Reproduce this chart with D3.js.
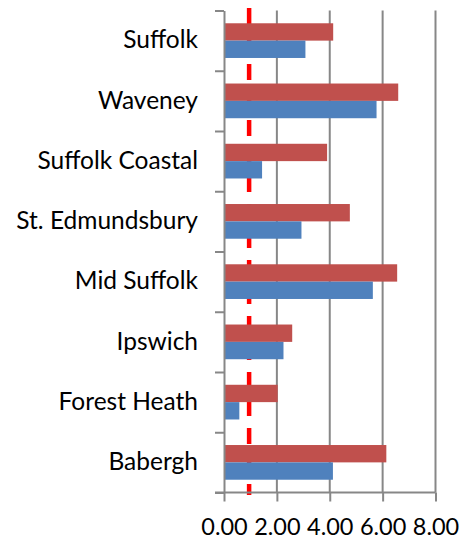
<!DOCTYPE html>
<html>
<head>
<meta charset="utf-8">
<script src="https://cdn.jsdelivr.net/npm/d3@7"></script>
<style>
  body { margin: 0; background: #fff; }
  svg { display: block; }
  text { font-family: Lato, 'Noto Sans', sans-serif; fill: #000; }
</style>
</head>
<body>
<svg id="chart"></svg>
<script>
// districts, top to bottom as drawn
const categories = ['Suffolk', 'Waveney', 'Suffolk Coastal', 'St. Edmundsbury', 'Mid Suffolk', 'Ipswich', 'Forest Heath', 'Babergh']
// upper (red) bar of each pair
const redValues = [4.13, 6.59, 3.90, 4.76, 6.55, 2.58, 2.03, 6.14]
// lower (blue) bar of each pair
const blueValues = [3.08, 5.77, 1.44, 2.93, 5.63, 2.25, 0.58, 4.12]
const xTicks = [0, 2, 4, 6, 8]
const refValue = 0.95

const width = 462
const height = 541
const margin = {top: 10.5, right: 26.5, bottom: 48.5, left: 224}
const w = width - margin.left - margin.right
const h = height - margin.top - margin.bottom

const redColor = '#c0504d'
const blueColor = '#4f81bd'
const gridColor = '#878787'

const svg = d3.select('#chart')
  .attr('width', width)
  .attr('height', height)

const g = svg.append('g')
  .attr('transform', 'translate(' + margin.left + ',' + margin.top + ')')

const x = d3.scaleLinear()
  .domain([0, 8])
  .range([0, w])

const y0 = d3.scaleBand()
  .domain(categories)
  .range([0, h])
  .paddingInner(0.424)
  .paddingOuter(0.212)

const y1 = d3.scaleBand()
  .domain(['red', 'blue'])
  .range([0, y0.bandwidth()])

const yEdge = d3.scaleLinear()
  .domain([0, categories.length])
  .range([0, h])

// vertical gridlines
g.append('g')
  .classed('grid', true)
  .selectAll('line')
  .data(xTicks.filter((d) => d > 0))
  .enter()
  .append('line')
  .attr('x1', (d) => x(d))
  .attr('x2', (d) => x(d))
  .attr('y1', 0)
  .attr('y2', h)
  .attr('stroke', gridColor)
  .attr('stroke-width', 2)

// red dashed reference line, sits behind the bars
g.append('line')
  .attr('x1', x(refValue))
  .attr('x2', x(refValue))
  .attr('y1', -2.5)
  .attr('y2', h + 2.5)
  .attr('stroke', '#ff0000')
  .attr('stroke-width', 4.5)
  .attr('stroke-dasharray', '16,12')

const rows = categories.map((c, i) => ({key: c, red: redValues[i], blue: blueValues[i]}))

const groups = g.append('g')
  .classed('bars', true)
  .selectAll('g.row')
  .data(rows)
  .enter()
  .append('g')
  .classed('row', true)
  .attr('transform', (d) => 'translate(0,' + y0(d.key) + ')')

groups.append('rect')
  .attr('x', x(0) + 1)
  .attr('y', y1('red'))
  .attr('width', (d) => x(d.red) - x(0) - 1)
  .attr('height', y1.bandwidth())
  .attr('fill', redColor)

groups.append('rect')
  .attr('x', x(0) + 1)
  .attr('y', y1('blue'))
  .attr('width', (d) => x(d.blue) - x(0) - 1)
  .attr('height', y1.bandwidth())
  .attr('fill', blueColor)

// y axis: ticks between categories
const yAxis = g.append('g')
  .classed('y-axis', true)
  .call(d3.axisLeft(yEdge)
    .tickValues(d3.range(categories.length + 1))
    .tickFormat('')
    .tickSize(9)
    .tickSizeOuter(0))
yAxis.selectAll('line, path')
  .attr('stroke', gridColor)
  .attr('stroke-width', 2)

// category labels
const yLabels = g.append('g')
  .classed('y-labels', true)
  .call(d3.axisLeft(y0).tickSize(0).tickPadding(26))
yLabels.select('path.domain').remove()
yLabels.selectAll('text')
  .attr('font-size', 24.5)
  .style('font-family', 'Lato, sans-serif')

// x axis
const xAxis = g.append('g')
  .classed('x-axis', true)
  .attr('transform', 'translate(0,' + h + ')')
  .call(d3.axisBottom(x)
    .tickValues(xTicks)
    .tickFormat(d3.format('.2f'))
    .tickSize(9)
    .tickSizeOuter(0)
    .tickPadding(17))
xAxis.selectAll('line')
  .attr('stroke', gridColor)
  .attr('stroke-width', 2)
xAxis.select('path.domain')
  .attr('d', 'M-9,0H' + w)
  .attr('stroke', gridColor)
  .attr('stroke-width', 2)
xAxis.selectAll('text')
  .attr('font-size', 23.5)
  .style('font-family', 'Lato, sans-serif')
</script>
</body>
</html>
